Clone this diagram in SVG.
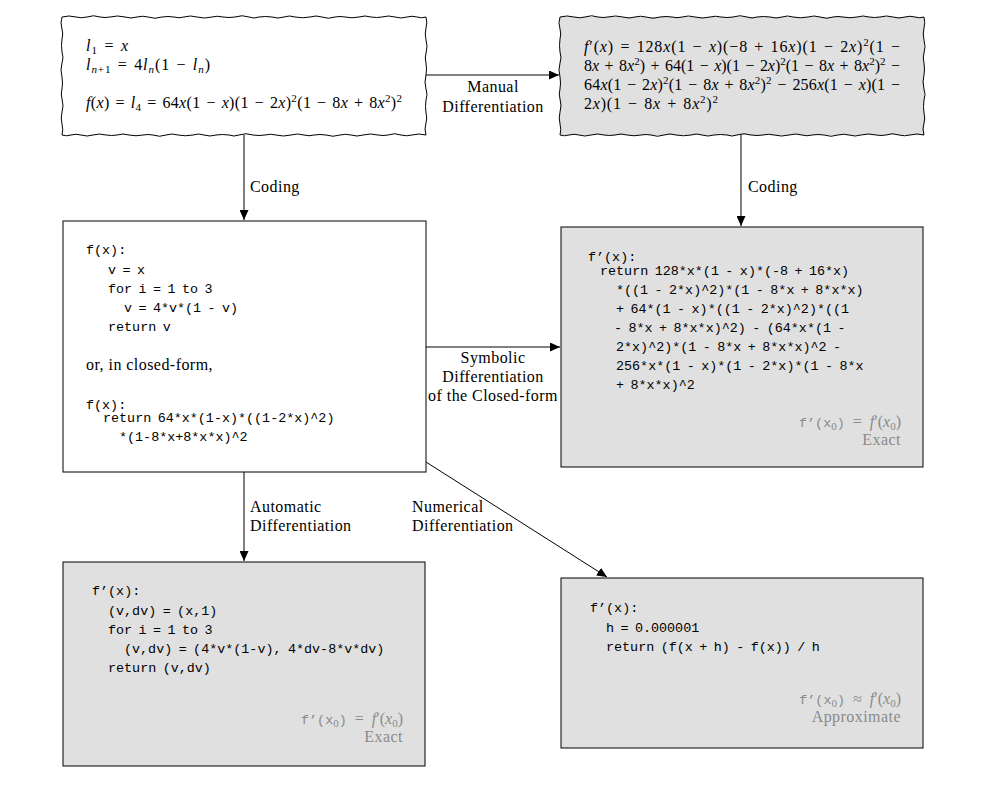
<svg xmlns="http://www.w3.org/2000/svg" xmlns:xlink="http://www.w3.org/1999/xlink" width="1001" height="806" viewBox="0 0 1001 806">
<style>
text{font-family:"Liberation Serif","Times New Roman",serif;font-size:16px;fill:#000}
.i{font-style:italic}
.sb{font-size:11px}
.sp{font-size:11px}
.mt{font-size:16px;word-spacing:1.5px}
.m{font-family:"Liberation Mono","DejaVu Sans Mono",monospace;font-size:13.4px;word-spacing:-1.6px}
.lbl{font-size:16px;letter-spacing:0.45px}
.gr{fill:#8a8a8a;word-spacing:4px}
.gr tspan{fill:#8a8a8a}
.box{stroke:#000;stroke-width:1}
.white{fill:#fff}
.gray{fill:#e0e0e0}
.wv{fill:none;stroke:#000;stroke-width:1}
.conn{stroke:#000;stroke-width:1;fill:none}
</style>
<defs>
<path id="wh" d="M0,0 q7,-2 14,0 q5.5,1.5 11,0 q6.5,-2.5 13,0 q5,1 10,0 q7.5,-2 15,0 q6,2 12,0 q5.5,-1.5 11,0 q7,2.5 14,0 q6,-1 12,0 q5,1.5 10,0 q6.5,-2 13,0 q7.5,2 15,0 q5.5,-1.5 11,0 q6,1 12,0 q7,-2.5 14,0 q5,2 10,0 q6.5,-1 13,0 q6,2 12,0 q5.5,-2 11,0 q7.5,1.5 15,0 q6,-2 12,0 q6.5,2.5 13,0 q5,-1 10,0 q7,1.5 14,0 q6,-2 12,0 q5.5,1 11,0 q6.5,-2 13,0 q6,2 12,0 q5,-1.5 10,0 q4.5,1.5 9,0"/>
<path id="wvp" d="M0,0 q-2,6 0,12 q1.5,5 0,10 q-1,6.5 0,13 q2,5.5 0,11 q-2,7 0,14 q1,6 0,12 q-1.5,5 0,10 q2,6.5 0,13 q-1.5,6 0,12 q1.5,5.5 0,11"/>
<marker id="ah" markerUnits="userSpaceOnUse" markerWidth="11" markerHeight="9" refX="10" refY="4.5" orient="auto" viewBox="0 0 11 9">
<path d="M0,0 L10,4.5 L0,9 z" fill="#000"/>
</marker>
</defs>
<rect width="1001" height="806" fill="#fff"/>

<g id="connectors">
<line class="conn" x1="426" y1="75" x2="559" y2="75" marker-end="url(#ah)"/>
<line class="conn" x1="244" y1="135" x2="244" y2="220" marker-end="url(#ah)"/>
<line class="conn" x1="741" y1="135" x2="741" y2="226" marker-end="url(#ah)"/>
<line class="conn" x1="426" y1="347" x2="560" y2="347" marker-end="url(#ah)"/>
<line class="conn" x1="244" y1="472" x2="244" y2="561" marker-end="url(#ah)"/>
<line class="conn" x1="426" y1="462" x2="607" y2="577" marker-end="url(#ah)"/>
<text class="lbl" x="493" y="92" text-anchor="middle">Manual</text>
<text class="lbl" x="493" y="112" text-anchor="middle">Differentiation</text>
<text class="lbl" x="250" y="192">Coding</text>
<text class="lbl" x="748" y="192">Coding</text>
<text class="lbl" x="493" y="363" text-anchor="middle">Symbolic</text>
<text class="lbl" x="493" y="382" text-anchor="middle">Differentiation</text>
<text class="lbl" x="493" y="401" text-anchor="middle">of the Closed-form</text>
<text class="lbl" x="250" y="512">Automatic</text>
<text class="lbl" x="250" y="531">Differentiation</text>
<text class="lbl" x="412" y="512">Numerical</text>
<text class="lbl" x="412" y="531">Differentiation</text>
</g>

<g id="node-function">
<rect class="white" x="62" y="17" width="364" height="118"/>
<use xlink:href="#wh" class="wv" transform="translate(62,17)"/>
<use xlink:href="#wh" class="wv" transform="translate(426,135) scale(-1,1)"/>
<use xlink:href="#wvp" class="wv" transform="translate(62,17)"/>
<use xlink:href="#wvp" class="wv" transform="translate(426,135) scale(1,-1)"/>
<text class="mt" x="86" y="51" textLength="42" lengthAdjust="spacing"><tspan class="i">l</tspan><tspan class="sb" dy="3">1</tspan><tspan dy="-3"> = </tspan><tspan class="i">x</tspan></text>
<text class="mt" x="86" y="70" textLength="124" lengthAdjust="spacing"><tspan class="i">l</tspan><tspan class="sb" dy="3"><tspan class="i">n</tspan>+1</tspan><tspan dy="-3"> = 4</tspan><tspan class="i">l</tspan><tspan class="sb i" dy="3">n</tspan><tspan dy="-3">(1 − </tspan><tspan class="i">l</tspan><tspan class="sb i" dy="3">n</tspan><tspan dy="-3">)</tspan></text>
<text class="mt" x="86" y="108" textLength="316" lengthAdjust="spacing"><tspan class="i">f</tspan>(<tspan class="i">x</tspan>) = <tspan class="i">l</tspan><tspan class="sb" dy="3">4</tspan><tspan dy="-3"> = 64</tspan><tspan class="i">x</tspan>(1 − <tspan class="i">x</tspan>)(1 − 2<tspan class="i">x</tspan>)<tspan class="sp" dy="-6">2</tspan><tspan dy="6">(1 − 8</tspan><tspan class="i">x</tspan> + 8<tspan class="i">x</tspan><tspan class="sp" dy="-6">2</tspan><tspan dy="6">)</tspan><tspan class="sp" dy="-6">2</tspan></text>
</g>

<g id="node-manual-derivative">
<rect class="gray" x="560" y="17" width="364" height="118"/>
<use xlink:href="#wh" class="wv" transform="translate(560,17)"/>
<use xlink:href="#wh" class="wv" transform="translate(924,135) scale(-1,1)"/>
<use xlink:href="#wvp" class="wv" transform="translate(560,17)"/>
<use xlink:href="#wvp" class="wv" transform="translate(924,135) scale(1,-1)"/>
<text class="mt" x="584" y="52" textLength="316" lengthAdjust="spacing"><tspan class="i">f</tspan>′(<tspan class="i">x</tspan>) = 128<tspan class="i">x</tspan>(1 − <tspan class="i">x</tspan>)(−8 + 16<tspan class="i">x</tspan>)(1 − 2<tspan class="i">x</tspan>)<tspan class="sp" dy="-6">2</tspan><tspan dy="6">(1 −</tspan></text>
<text class="mt" x="584" y="71" textLength="316" lengthAdjust="spacing">8<tspan class="i">x</tspan> + 8<tspan class="i">x</tspan><tspan class="sp" dy="-6">2</tspan><tspan dy="6">) + 64(1 − </tspan><tspan class="i">x</tspan>)(1 − 2<tspan class="i">x</tspan>)<tspan class="sp" dy="-6">2</tspan><tspan dy="6">(1 − 8</tspan><tspan class="i">x</tspan> + 8<tspan class="i">x</tspan><tspan class="sp" dy="-6">2</tspan><tspan dy="6">)</tspan><tspan class="sp" dy="-6">2</tspan><tspan dy="6"> −</tspan></text>
<text class="mt" x="584" y="90" textLength="316" lengthAdjust="spacing">64<tspan class="i">x</tspan>(1 − 2<tspan class="i">x</tspan>)<tspan class="sp" dy="-6">2</tspan><tspan dy="6">(1 − 8</tspan><tspan class="i">x</tspan> + 8<tspan class="i">x</tspan><tspan class="sp" dy="-6">2</tspan><tspan dy="6">)</tspan><tspan class="sp" dy="-6">2</tspan><tspan dy="6"> − 256</tspan><tspan class="i">x</tspan>(1 − <tspan class="i">x</tspan>)(1 −</text>
<text class="mt" x="584" y="109" textLength="134" lengthAdjust="spacing">2<tspan class="i">x</tspan>)(1 − 8<tspan class="i">x</tspan> + 8<tspan class="i">x</tspan><tspan class="sp" dy="-6">2</tspan><tspan dy="6">)</tspan><tspan class="sp" dy="-6">2</tspan></text>
</g>

<g id="node-code">
<rect class="white box" x="63" y="221" width="363" height="251"/>
<text class="m" x="86" y="254">f(x):</text>
<text class="m" x="108" y="274">v = x</text>
<text class="m" x="108" y="293">for i = 1 to 3</text>
<text class="m" x="124" y="312">v = 4*v*(1 - v)</text>
<text class="m" x="108" y="331">return v</text>
<text class="lbl" x="86" y="370">or, in closed-form,</text>
<text class="m" x="86" y="409">f(x):</text>
<text class="m" x="103" y="422">return 64*x*(1-x)*((1-2*x)^2)</text>
<text class="m" x="119" y="441">*(1-8*x+8*x*x)^2</text>
</g>

<g id="node-symbolic">
<rect class="gray box" x="561" y="227" width="362" height="240"/>
<text class="m" x="588" y="261">f’(x):</text>
<text class="m" x="600" y="275">return 128*x*(1 - x)*(-8 + 16*x)</text>
<text class="m" x="616" y="294">*((1 - 2*x)^2)*(1 - 8*x + 8*x*x)</text>
<text class="m" x="616" y="313">+ 64*(1 - x)*((1 - 2*x)^2)*((1</text>
<text class="m" x="614" y="332">- 8*x + 8*x*x)^2) - (64*x*(1 -</text>
<text class="m" x="616" y="351">2*x)^2)*(1 - 8*x + 8*x*x)^2 -</text>
<text class="m" x="616" y="370">256*x*(1 - x)*(1 - 2*x)*(1 - 8*x</text>
<text class="m" x="616" y="389">+ 8*x*x)^2</text>
<text class="gr" x="901" y="427" text-anchor="end"><tspan class="m">f’(x</tspan><tspan class="sb" dy="3">0</tspan><tspan class="m" dy="-3">)</tspan> = <tspan class="i">f</tspan>′(<tspan class="i">x</tspan><tspan class="sb" dy="3">0</tspan><tspan dy="-3">)</tspan></text>
<text class="gr lbl" x="901" y="445" text-anchor="end">Exact</text>
</g>

<g id="node-automatic">
<rect class="gray box" x="63" y="562" width="362" height="204"/>
<text class="m" x="92" y="595">f’(x):</text>
<text class="m" x="108" y="615">(v,dv) = (x,1)</text>
<text class="m" x="108" y="634">for i = 1 to 3</text>
<text class="m" x="124" y="653">(v,dv) = (4*v*(1-v), 4*dv-8*v*dv)</text>
<text class="m" x="108" y="672">return (v,dv)</text>
<text class="gr" x="403" y="724" text-anchor="end"><tspan class="m">f’(x</tspan><tspan class="sb" dy="3">0</tspan><tspan class="m" dy="-3">)</tspan> = <tspan class="i">f</tspan>′(<tspan class="i">x</tspan><tspan class="sb" dy="3">0</tspan><tspan dy="-3">)</tspan></text>
<text class="gr lbl" x="403" y="742" text-anchor="end">Exact</text>
</g>

<g id="node-numerical">
<rect class="gray box" x="561" y="578" width="362" height="170"/>
<text class="m" x="590" y="612">f’(x):</text>
<text class="m" x="606" y="632">h = 0.000001</text>
<text class="m" x="606" y="651">return (f(x + h) - f(x)) / h</text>
<text class="gr" x="901" y="704" text-anchor="end"><tspan class="m">f’(x</tspan><tspan class="sb" dy="3">0</tspan><tspan class="m" dy="-3">)</tspan> ≈ <tspan class="i">f</tspan>′(<tspan class="i">x</tspan><tspan class="sb" dy="3">0</tspan><tspan dy="-3">)</tspan></text>
<text class="gr lbl" x="901" y="722" text-anchor="end">Approximate</text>
</g>
</svg>
